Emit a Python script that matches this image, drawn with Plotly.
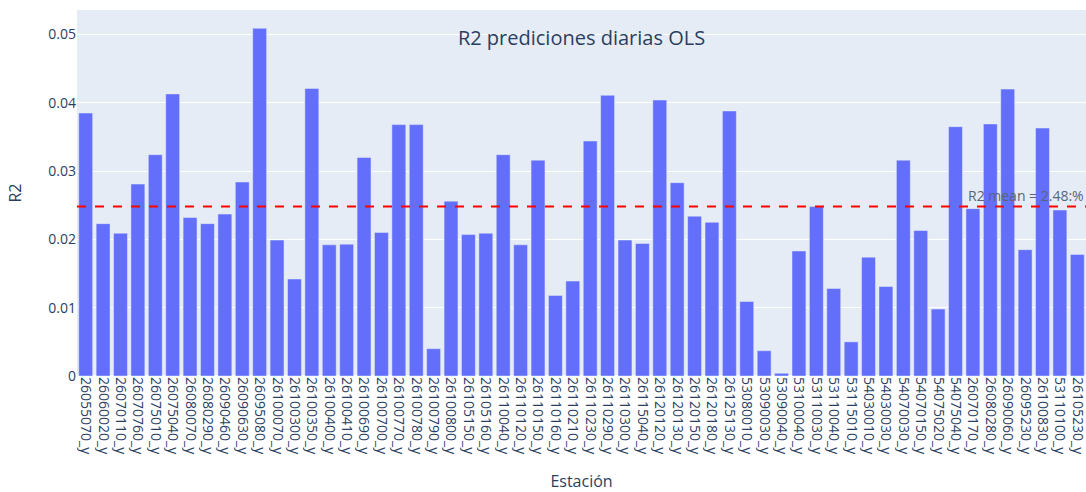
import plotly.graph_objects as go

estaciones = [
    "26055070_y", "26060020_y", "26070110_y", "26070760_y", "26075010_y", "26075040_y",
    "26080070_y", "26080290_y", "26090460_y", "26090630_y", "26095080_y", "26100070_y",
    "26100300_y", "26100350_y", "26100400_y", "26100410_y", "26100690_y", "26100700_y",
    "26100770_y", "26100780_y", "26100790_y", "26100800_y", "26105150_y", "26105160_y",
    "26110040_y", "26110120_y", "26110150_y", "26110160_y", "26110210_y", "26110230_y",
    "26110290_y", "26110300_y", "26115040_y", "26120120_y", "26120130_y", "26120150_y",
    "26120180_y", "26125130_y", "53080010_y", "53090030_y", "53090040_y", "53100040_y",
    "53110030_y", "53110040_y", "53115010_y", "54030010_y", "54030030_y", "54070030_y",
    "54070150_y", "54075020_y", "54075040_y", "26070170_y", "26080280_y", "26090060_y",
    "26095230_y", "26100830_y", "53110100_y", "26105230_y",
]

r2 = [
    0.0385, 0.0223, 0.0209, 0.0281, 0.0324, 0.0413,
    0.0232, 0.0223, 0.0237, 0.0284, 0.0509, 0.0199,
    0.0142, 0.0421, 0.0192, 0.0193, 0.0320, 0.0210,
    0.0368, 0.0368, 0.0040, 0.0256, 0.0207, 0.0209,
    0.0324, 0.0192, 0.0316, 0.0118, 0.0139, 0.0344,
    0.0411, 0.0199, 0.0194, 0.0404, 0.0283, 0.0234,
    0.0225, 0.0388, 0.0109, 0.0037, 0.0004, 0.0183,
    0.0248, 0.0128, 0.0050, 0.0174, 0.0131, 0.0316,
    0.0213, 0.0098, 0.0365, 0.0245, 0.0369, 0.0420,
    0.0185, 0.0363, 0.0243, 0.0178,
]

r2_mean = 0.0248

fig = go.Figure()
fig.add_trace(go.Bar(x=estaciones, y=r2))

fig.add_hline(
    y=r2_mean,
    line_dash="dash",
    line_color="red",
    line_width=2,
    annotation_text=f"R2 mean = {r2_mean*100:.2f}:%",
    annotation_position="top right",
    annotation_font=dict(size=14, color="#5a6478"),
)

fig.update_layout(
    width=1086,
    height=492,
    template="plotly",
    font=dict(size=14),
    margin=dict(l=77, r=0, t=10, b=116),
    title=dict(
        text="R2 prediciones diarias OLS",
        font=dict(size=20),
        x=0.5,
        xanchor="center",
        xref="paper",
        y=0.923,
        yref="container",
        yanchor="middle",
    ),
    xaxis=dict(title=dict(text="Estación", font=dict(size=16), standoff=24),
               tickangle=90, tickfont=dict(size=14), automargin=False),
    yaxis=dict(title=dict(text="R2", font=dict(size=16), standoff=22),
               tickfont=dict(size=14), automargin=False),
    showlegend=False,
)

fig.write_html(
    "out.html",
    config={"displayModeBar": False},
    post_script="document.body.style.margin='0';document.body.style.overflow='hidden';",
)
